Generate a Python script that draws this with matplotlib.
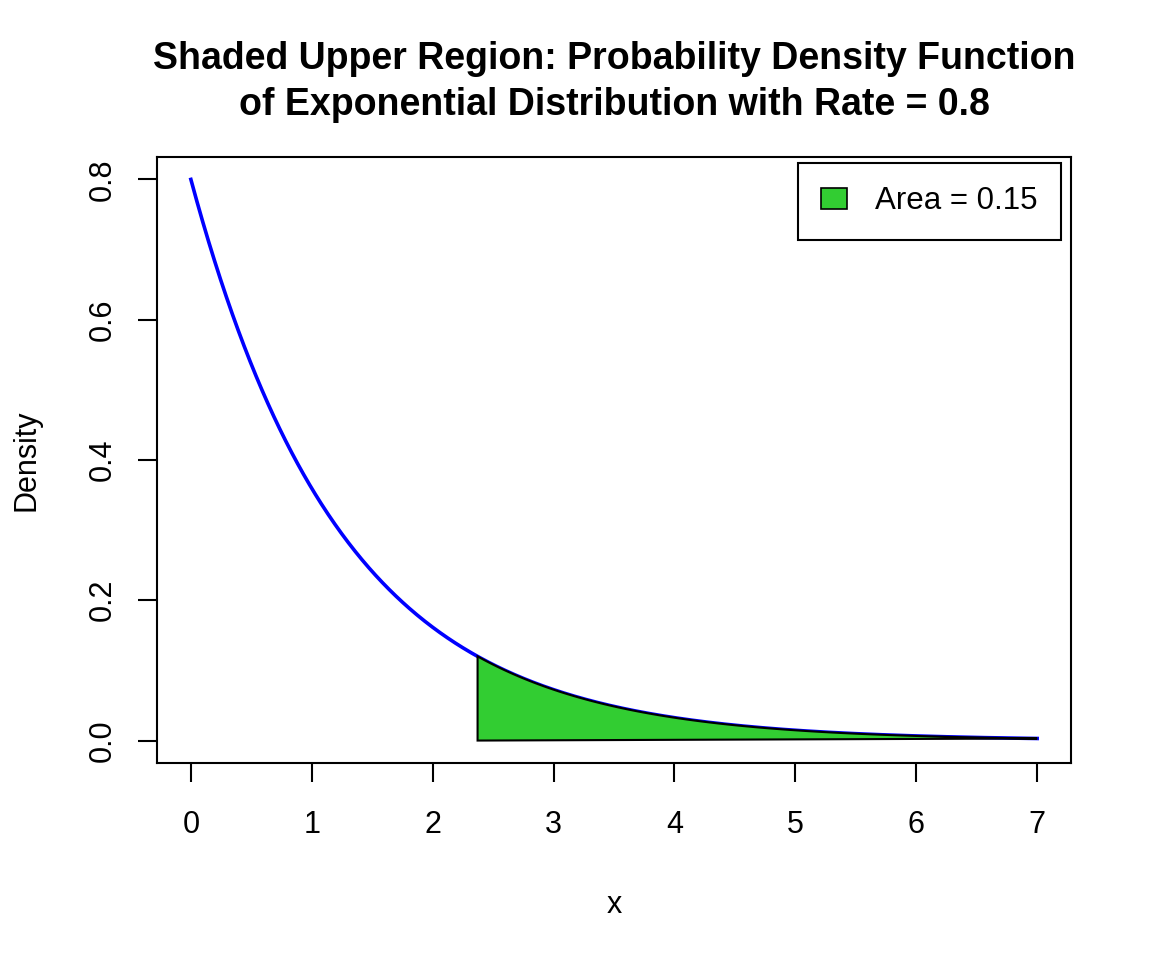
import numpy as np
import matplotlib
matplotlib.use("Agg")
import matplotlib.pyplot as plt
from matplotlib.patches import Patch

# chart parameters
rate = 0.8
upper_area = 0.15
x_max = 7
x_ticks = [0, 1, 2, 3, 4, 5, 6, 7]
y_ticks = [0.0, 0.2, 0.4, 0.6, 0.8]
y_tick_labels = ["0.0", "0.2", "0.4", "0.6", "0.8"]
title = ("Shaded Upper Region: Probability Density Function\n"
         "of Exponential Distribution with Rate = 0.8")

plt.rcParams["font.family"] = ["Liberation Sans", "DejaVu Sans"]

# density curve and shading cut point
x = np.linspace(0, x_max, 1000)
dens = rate * np.exp(-rate * x)
q = -np.log(upper_area) / rate
xs = np.linspace(q, x_max, 300)
ys = rate * np.exp(-rate * xs)

fig = plt.figure(figsize=(11.52, 9.6), dpi=100)
ax = fig.add_axes([0.1363, 0.2052, 0.7934, 0.6313])

ax.plot(x, dens, color="blue", lw=2.6, zorder=2)
ax.fill(np.r_[q, xs], np.r_[0, ys], facecolor="#32CD32", edgecolor="black",
        lw=1.5, zorder=3)

ax.set_xlim(-0.04 * x_max, x_max * 1.04)
ax.set_ylim(-0.032, 0.832)
ax.set_xticks(x_ticks)
ax.set_yticks(y_ticks)
ax.set_yticklabels(y_tick_labels, rotation=90, va="center")
ax.tick_params(direction="out", length=13.5, width=1.5, labelsize=22)
ax.tick_params(axis="x", pad=20)
ax.tick_params(axis="y", pad=15)
for s in ax.spines.values():
    s.set_linewidth(1.5)

ax.set_xlabel("x", fontsize=22, labelpad=36)
ax.set_ylabel("Density", fontsize=22, labelpad=33)
ax.set_title(title, fontsize=27, fontweight="bold", pad=30, linespacing=1.36)

leg = ax.legend(handles=[Patch(facecolor="#32CD32", edgecolor="black", lw=1.2)],
                labels=["Area = 0.15"], loc="upper right", fontsize=22.5,
                fancybox=False, edgecolor="black", framealpha=1,
                handlelength=0.82, handleheight=0.62, borderpad=0.75,
                handletextpad=0.9, borderaxespad=0,
                bbox_to_anchor=(0.989, 0.99))
leg.get_frame().set_linewidth(1.5)

fig.savefig("out.png", dpi=100)
